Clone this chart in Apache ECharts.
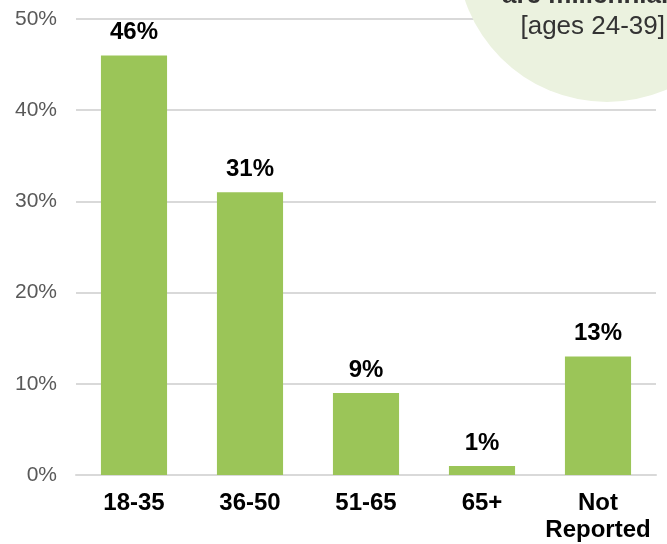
<!DOCTYPE html>
<html><head><meta charset="utf-8">
<script src="https://cdn.jsdelivr.net/npm/echarts@6/dist/echarts.min.js"></script>
<style>html,body{margin:0;padding:0;background:#fff}#c{width:667px;height:544px}</style>
</head><body><div id="c"></div>
<script>
const categories = ['18-35', '36-50', '51-65', '65+', 'Not\nReported'];
const values = [46, 31, 9, 1, 13];
const yTicks = [0, 10, 20, 30, 40, 50];

const chart = echarts.init(document.getElementById('c'));
chart.setOption({
  animation: false,
  grid: { left: 76, right: 11, top: 19, bottom: 69, containLabel: false },
  xAxis: {
    type: 'category', data: categories,
    axisLine: { lineStyle: { color: '#d9d9d9', width: 2 } },
    axisTick: { show: false },
    axisLabel: { interval: 0, color: '#000', fontFamily: 'Liberation Sans', fontWeight: 'bold', fontSize: 24, margin: 15, lineHeight: 27 }
  },
  yAxis: {
    type: 'value', min: yTicks[0], max: yTicks[yTicks.length - 1], interval: 10,
    axisLine: { show: false }, axisTick: { show: false },
    splitLine: { lineStyle: { color: '#d9d9d9', width: 2 } },
    axisLabel: { formatter: '{value}%', color: '#595959', fontFamily: 'Liberation Sans', fontSize: 21, margin: 19 }
  },
  series: [{
    type: 'bar', data: values, barWidth: '57%',
    itemStyle: { color: '#9bc558' },
    label: { show: true, position: 'top', formatter: '{c}%', color: '#000', fontFamily: 'Liberation Sans', fontWeight: 'bold', fontSize: 24, distance: 11 }
  }],
  graphic: [
    { type: 'circle', shape: { cx: 607, cy: -48, r: 150 }, style: { fill: '#ebf2df' }, z: 10 },
    { type: 'text', x: 502, y: -4, z: 11, style: { text: 'are millennials', fill: '#333', font: 'bold 26px "Liberation Sans"', textAlign: 'left', textVerticalAlign: 'middle' } },
    { type: 'text', x: 665, y: 27, z: 11, style: { text: '[ages 24-39]', fill: '#333', font: '26px "Liberation Sans"', textAlign: 'right', textVerticalAlign: 'middle' } }
  ]
});
</script></body></html>
